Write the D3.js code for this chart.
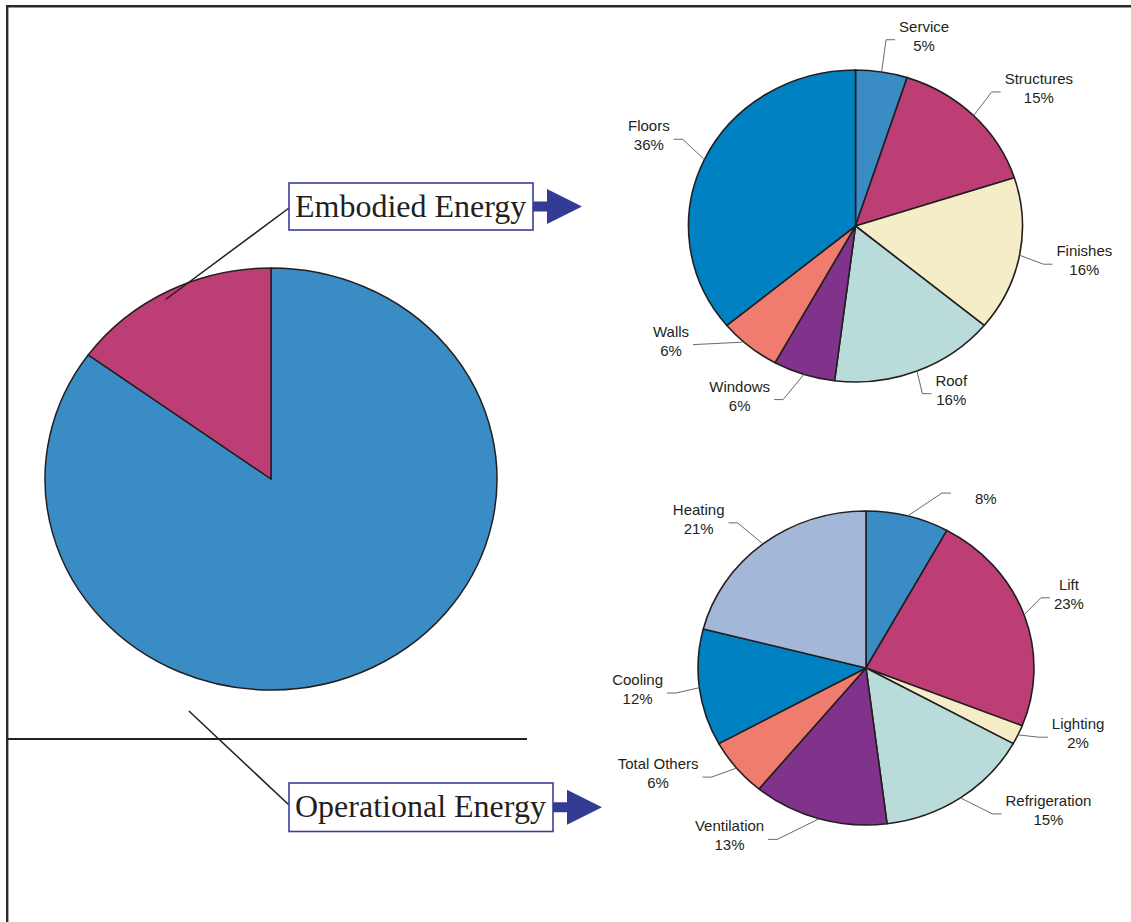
<!DOCTYPE html>
<html><head><meta charset="utf-8">
<script src="https://cdn.jsdelivr.net/npm/d3@7"></script>
<style>body{margin:0;background:#fff}svg{display:block}</style>
</head><body>
<svg id="chart" width="1131" height="922"></svg>
<script>
// ---- data ----
const mainCategories = ["Operational Energy", "Embodied Energy"];
const mainValues = [85, 15];

const embodiedCategories = ["Service", "Structures", "Finishes", "Roof", "Windows", "Walls", "Floors"];
const embodiedValues = [5, 15, 16, 16, 6, 6, 36];

const operationalCategories = ["", "Lift", "Lighting", "Refrigeration", "Ventilation", "Total Others", "Cooling", "Heating"];
const operationalValues = [8, 23, 2, 15, 13, 6, 12, 21];

// ---- styles ----
const mainColors = ["#3a8cc4", "#bc3e75"];
const embodiedColors = ["#3a8cc4", "#bc3e75", "#f5edc8", "#b9dcdb", "#81328b", "#ef7c6f", "#0081c2"];
const operationalColors = ["#3a8cc4", "#bc3e75", "#f5edc8", "#b9dcdb", "#81328b", "#ef7c6f", "#0081c2", "#a3b8d8"];
const ink = "#231f20";
const boxBlue = "#3b3f98";
const arrowBlue = "#343b94";

const svg = d3.select("#chart");

// frame
svg.append("line").attr("x1", 6).attr("y1", 6.2).attr("x2", 1131).attr("y2", 6.2)
  .attr("stroke", "#2a2a2a").attr("stroke-width", 2.4);
svg.append("line").attr("x1", 7.2).attr("y1", 5).attr("x2", 7.2).attr("y2", 922)
  .attr("stroke", "#2a2a2a").attr("stroke-width", 2.4);
svg.append("line").attr("x1", 7).attr("y1", 739).attr("x2", 527).attr("y2", 739)
  .attr("stroke", ink).attr("stroke-width", 2);

function drawPie(cats, vals, colors, cx, cy, r, sx, strokeW) {
  const color = d3.scaleOrdinal().domain(cats.map((c, i) => i)).range(colors);
  const pie = d3.pie().sort(null).value(d => d.v);
  const arcs = pie(cats.map((c, i) => ({ c, v: vals[i], i })));
  const arc = d3.arc().innerRadius(0).outerRadius(r);
  const g = svg.append("g").attr("transform", `translate(${cx},${cy}) scale(${sx},1)`);
  g.selectAll("path").data(arcs).join("path")
    .attr("d", arc)
    .attr("fill", d => color(d.data.i))
    .attr("stroke", ink)
    .attr("stroke-width", strokeW)
    .attr("stroke-linejoin", "round")
    .attr("vector-effect", "non-scaling-stroke");
  return arcs;
}

function ellPt(cx, cy, r, sx, ang, f) {
  return [cx + f * r * sx * Math.sin(ang), cy - f * r * Math.cos(ang)];
}

// label nudges (layout only)
const labelNudge = {
  "Service": { dy: -6 },
  "Structures": { dx: -2, dy: -5 },
  "Floors": { dx: 4, dy: -9 },
  "Finishes": { dx: -4, dy: 4 },
  "Roof": { dx: -5, dy: -2 },
  "Walls": { elbowDy: -22, noElbow: true },
  "Windows": { dx: -12 },
  "": { dx: 27, dy: 3, textDx: 20 },
  "Lift": { dx: -10, dy: -8 },
  "Lighting": { dx: -5, dy: -9 },
  "Refrigeration": { dx: 16, dy: -6 },
  "Ventilation": { dx: -34, dy: -5 },
  "Total Others": { dx: -3, dy: -8 },
  "Cooling": { dx: 5, dy: 2 },
  "Heating": { dx: -8 }
};

function drawLabels(arcs, cx, cy, r, sx) {
  const lg = svg.append("g");
  arcs.forEach(d => {
    const name = d.data.c;
    const nz = labelNudge[name] || {};
    const mid = (d.startAngle + d.endAngle) / 2;
    const side = Math.sin(mid) >= 0 ? 1 : -1;
    const start = ellPt(cx, cy, r, sx, mid, 1.0);
    let elbow = ellPt(cx, cy, r, sx, mid, 1.17);
    elbow = [elbow[0] + (nz.dx || 0), elbow[1] + (nz.dy || 0) + (nz.elbowDy || 0)];
    let pts;
    let lineEnd;
    if (nz.noElbow) {
      const s0 = [start[0] + side * 7, start[1] - 4];
      lineEnd = [s0[0] + side * 49, elbow[1]];
      pts = [s0, lineEnd];
    } else {
      lineEnd = [elbow[0] + side * 9, elbow[1]];
      pts = [start, elbow, lineEnd];
    }
    lg.append("path").attr("d", d3.line()(pts))
      .attr("fill", "none").attr("stroke", "#6a6a6a").attr("stroke-width", 1);
    const t = lg.append("text")
      .attr("font-family", "'Liberation Sans', Arial, sans-serif")
      .attr("font-size", 15).attr("fill", ink).attr("text-anchor", "middle");
    const l1 = t.append("tspan").text(name).attr("y", lineEnd[1] - 8);
    const l2 = t.append("tspan").text(d.data.v + "%").attr("y", lineEnd[1] + 11);
    const w = Math.max(l1.node().getComputedTextLength(), l2.node().getComputedTextLength());
    const tx = lineEnd[0] + side * (4 + w / 2) + (nz.textDx || 0);
    l1.attr("x", tx); l2.attr("x", tx);
  });
}

// main pie
const mainArcs = drawPie(mainCategories, mainValues, mainColors, 271, 479, 211, 1.071, 1.5);

// detail pies
const embArcs = drawPie(embodiedCategories, embodiedValues, embodiedColors, 855.5, 226, 156, 1.0705, 1.6);
drawLabels(embArcs, 855.5, 226, 156, 1.0705);
const opArcs = drawPie(operationalCategories, operationalValues, operationalColors, 866, 668, 157, 1.07, 1.6);
drawLabels(opArcs, 866, 668, 157, 1.07);

// callouts for the main pie
function callout(label, from, box) {
  svg.append("line").attr("x1", from[0]).attr("y1", from[1])
    .attr("x2", box.x).attr("y2", box.ly)
    .attr("stroke", ink).attr("stroke-width", 1.5);
  svg.append("rect").attr("x", box.x).attr("y", box.y).attr("width", box.w).attr("height", box.h)
    .attr("fill", "#fff").attr("stroke", boxBlue).attr("stroke-width", 1.6);
  svg.append("text").attr("x", box.x + 6).attr("y", box.y + 34)
    .attr("font-family", "'Liberation Serif', 'Times New Roman', serif")
    .attr("font-size", 32).attr("fill", ink).text(label);
  const ay = box.y + box.h / 2;
  const x0 = box.x + box.w;
  svg.append("rect").attr("x", x0).attr("y", ay - 5).attr("width", 16).attr("height", 10).attr("fill", arrowBlue);
  svg.append("path").attr("d", `M${x0 + 14},${ay - 17.5}L${x0 + 49},${ay}L${x0 + 14},${ay + 17.5}Z`).attr("fill", arrowBlue);
}
const emb = mainArcs[1];
const embMid = (emb.startAngle + emb.endAngle) / 2;
callout(mainCategories[1], ellPt(271, 479, 211, 1.071, embMid - 0.03, 0.97),
  { x: 289, y: 183, w: 244, h: 47, ly: 208 });
const op = mainArcs[0];
callout(mainCategories[0], ellPt(271, 479, 211, 1.071, op.endAngle - 1.88, 1.158),
  { x: 289, y: 783, w: 264, h: 48.5, ly: 805 });
</script>
</body></html>
